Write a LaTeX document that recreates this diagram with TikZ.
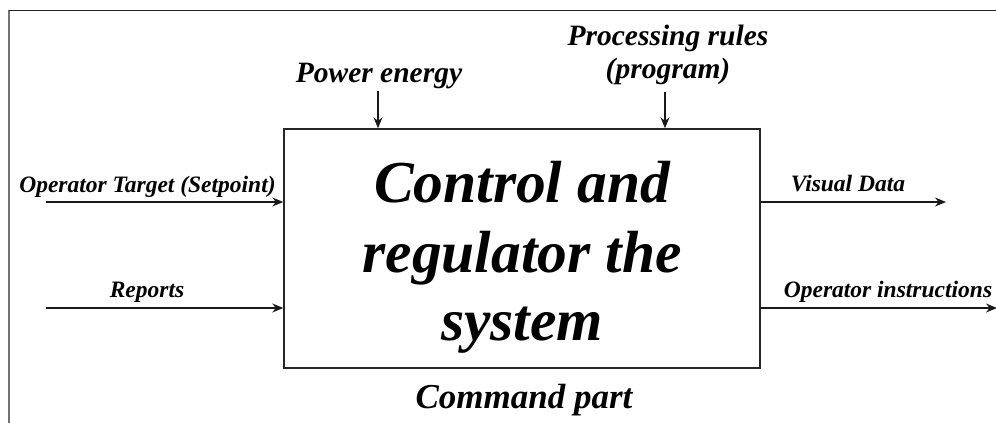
\documentclass[tikz,border=0pt]{standalone}
\usepackage{fontspec}
\setmainfont{Liberation Serif}
\usetikzlibrary{arrows.meta,calc}
\tikzset{
  lbl/.style={anchor=base,inner sep=0pt,font=\fontsize{23.5}{28}\selectfont\bfseries\itshape},
  toplbl/.style={anchor=base,inner sep=0pt,font=\fontsize{29.5}{33}\selectfont\bfseries\itshape},
  bigtxt/.style={anchor=base,inner sep=0pt,font=\fontsize{59.5}{70}\selectfont\bfseries\itshape},
  arr/.style={draw=black!90,line width=1.3pt,-{Stealth[length=11pt,width=9pt]}},
  mainbox/.style={draw=black!85,line width=1.4pt,minimum width=476pt,minimum height=239pt,inner sep=0pt},
}
\begin{document}
\begin{tikzpicture}[x=1pt,y=-1pt]
\useasboundingbox (0,0) rectangle (996,423);
% frame
\coordinate (fbl) at (8.5,423);
\coordinate (ftl) at (8.5,10);
\coordinate (ftr) at (996,10);
\draw[draw=black!55,line width=2pt] (fbl) -- (ftl);
\draw[draw=black!85,line width=1pt] (ftl) -- (ftr);
% main box
\node[mainbox] (box) at (522,248.5) {};
\node[bigtxt] (t1) at (522,202) {Control and};
\node[bigtxt] (t2) at (522,272) {regulator the};
\node[bigtxt] (t3) at (522,340) {system};
\node[anchor=base,inner sep=0pt,font=\fontsize{35}{40}\selectfont\bfseries\itshape] (cmd) at (524,408) {Command part};
% inputs left
\coordinate (inA) at (46,202);
\coordinate (inB) at (46,308);
\draw[arr] (inA) -- (inA -| box.west);
\draw[arr] (inB) -- (inB -| box.west);
\node[lbl] (lA) at (147.5,192) {Operator Target (Setpoint)};
\node[lbl] (lB) at (147,297) {Reports};
% outputs right
\coordinate (outA) at (946,202);
\coordinate (outB) at (997,308);
\draw[arr] (outA -| box.east) -- (outA);
\draw[arr] (outB -| box.east) -- (outB);
\node[lbl] (rA) at (848,191) {Visual Data};
\node[lbl] (rB) at (888,297) {Operator instructions};
% top inputs
\node[toplbl] (pw) at (379,82) {Power energy};
\node[toplbl] (pr1) at (668,45) {Processing rules};
\node[toplbl] (pr2) at (668,78) {(program)};
\coordinate (topA) at (378,91);
\coordinate (topB) at (665,92);
\draw[arr] (topA) -- (topA |- box.north);
\draw[arr] (topB) -- (topB |- box.north);
\end{tikzpicture}
\end{document}
